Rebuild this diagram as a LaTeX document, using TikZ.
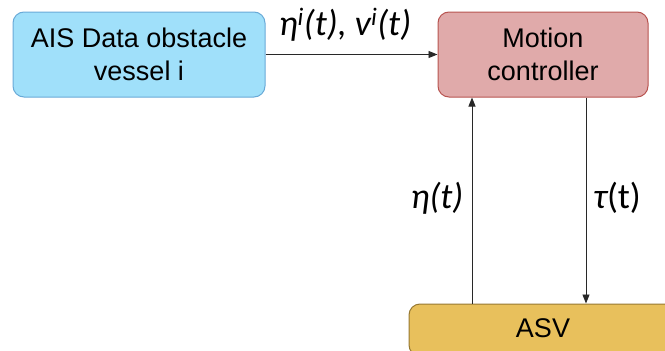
\documentclass[tikz,border=0pt]{standalone}
\usepackage{fontspec}
\setmainfont{Liberation Sans}
\newfontfamily\lblfont{Carlito}
\usetikzlibrary{arrows.meta,calc}
\definecolor{aisfill}{RGB}{160,224,250}
\definecolor{aisdraw}{RGB}{105,170,215}
\definecolor{mcfill}{RGB}{224,170,170}
\definecolor{mcdraw}{RGB}{184,84,80}
\definecolor{asvfill}{RGB}{232,192,92}
\definecolor{asvdraw}{RGB}{150,120,50}
\definecolor{arrcol}{RGB}{40,40,40}
\tikzset{
  blockbox/.style={rectangle, rounded corners=11pt, line width=1pt, align=center,
    font=\fontsize{27}{33}\selectfont, inner sep=0pt},
  arr/.style={draw=arrcol, line width=0.9pt, -{Triangle[length=9pt,width=7pt]}},
  lbl/.style={font=\lblfont\fontsize{36}{40}\selectfont, inner sep=0pt, anchor=base}
}
\begin{document}
\begin{tikzpicture}[x=1pt,y=-1pt]
\useasboundingbox (0,0) rectangle (665,351);
\clip (0,0) rectangle (665,351);
\node[blockbox, fill=aisfill, draw=aisdraw, minimum width=252pt, minimum height=85pt] (ais) at (139,54.5) {AIS Data obstacle\\vessel i};
\node[blockbox, fill=mcfill, draw=mcdraw, minimum width=210pt, minimum height=85pt] (mc) at (543,54.5) {Motion\\controller};
\node[blockbox, fill=asvfill, draw=asvdraw, minimum width=268pt, minimum height=52pt, text depth=0pt] (asv) at (543,330) {};
\node[font=\fontsize{27}{33}\selectfont, inner sep=0pt] (asvtxt) at (543,328) {ASV};
\draw[arr] (ais.east) -- (ais.east -| mc.west);
\coordinate (up) at ([xshift=-71pt]mc.south);
\coordinate (dn) at ([xshift=43pt]mc.south);
\draw[arr] (asv.north -| up) -- (up);
\draw[arr] (dn) -- (asv.north -| dn);
\node[lbl] (l1) at (345,35) {\itshape η\textsuperscript{i}(t), v\textsuperscript{i}(t)};
\node[lbl] (l2) at (437,208) {\itshape η(t)};
\node[lbl] (l3) at (617,208) {{\itshape τ}(t)};
\end{tikzpicture}
\end{document}
